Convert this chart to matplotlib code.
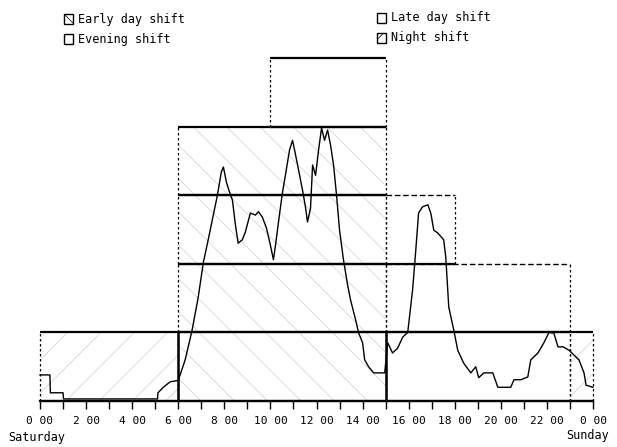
import matplotlib
matplotlib.use('Agg')
import matplotlib.pyplot as plt
from matplotlib.patches import Rectangle

plt.rcParams['hatch.linewidth'] = 0.5
MONO = 'DejaVu Sans Mono'

# ---- data -------------------------------------------------------------
hours = [0, 0.43, 0.45, 1.0, 1.02, 5.1, 5.12, 5.35, 5.65, 6.0, 6.3, 6.6, 6.87,
         7.09, 7.3, 7.52, 7.7, 7.87, 7.96, 8.09, 8.22, 8.35, 8.48, 8.6, 8.78,
         8.91, 9.13, 9.35, 9.48, 9.65, 9.83, 10.0, 10.13, 10.22, 10.39, 10.52,
         10.65, 10.83, 10.96, 11.09, 11.22, 11.39, 11.52, 11.61, 11.74, 11.83,
         11.96, 12.09, 12.22, 12.35, 12.48, 12.61, 12.74, 12.87, 13.0, 13.17,
         13.35, 13.48, 13.7, 13.83, 14.0, 14.09, 14.26, 14.48, 14.96, 15.09,
         15.3, 15.52, 15.74, 15.96, 16.17, 16.3, 16.43, 16.6, 16.83, 16.96,
         17.09, 17.26, 17.52, 17.61, 17.74, 17.96, 18.13, 18.39, 18.7, 18.91,
         19.04, 19.26, 19.65, 19.87, 20.43, 20.57, 20.87, 21.17, 21.3, 21.61,
         21.87, 22.09, 22.3, 22.48, 22.7, 22.96, 23.39, 23.61, 23.7, 24.0]
demand = [0.38, 0.38, 0.12, 0.12, 0.03, 0.03, 0.12, 0.2, 0.28, 0.3, 0.6, 1.03,
          1.52, 2.02, 2.35, 2.71, 3.0, 3.34, 3.41, 3.19, 3.05, 2.93, 2.57, 2.3,
          2.35, 2.46, 2.74, 2.71, 2.76, 2.68, 2.52, 2.27, 2.06, 2.27, 2.71, 3.03,
          3.29, 3.66, 3.8, 3.59, 3.37, 3.08, 2.83, 2.61, 2.81, 3.44, 3.29, 3.66,
          3.98, 3.8, 3.95, 3.73, 3.44, 3.0, 2.49, 2.06, 1.69, 1.47, 1.18, 0.99,
          0.85, 0.6, 0.5, 0.41, 0.41, 0.85, 0.7, 0.77, 0.93, 1.0, 1.62, 2.16,
          2.74, 2.83, 2.86, 2.74, 2.49, 2.45, 2.35, 2.1, 1.37, 1.03, 0.74, 0.55,
          0.41, 0.5, 0.34, 0.41, 0.41, 0.2, 0.2, 0.31, 0.31, 0.35, 0.6, 0.7,
          0.85, 1.0, 0.99, 0.79, 0.79, 0.74, 0.6, 0.41, 0.23, 0.2]

shift_kind = ['Early', 'Early', 'Early', 'Early', 'Late',
              'Evening', 'Evening', 'Evening', 'Night', 'Night']
shift_start = [6, 6, 6, 6, 10, 15, 15, 15, 0, 23]
shift_end = [15, 15, 15, 15, 15, 23, 23, 18, 6, 24]
shift_level = [0, 1, 2, 3, 4, 0, 1, 2, 0, 0]

legend_labels = ['Early day shift', 'Evening shift', 'Late day shift', 'Night shift']
legend_kinds = ['Early', 'Evening', 'Late', 'Night']

tick_hours = list(range(0, 25))
tick_labels = ['0 00', '', '2 00', '', '4 00', '', '6 00', '', '8 00', '',
               '10 00', '', '12 00', '', '14 00', '', '16 00', '', '18 00', '',
               '20 00', '', '22 00', '', '0 00']

# ---- styles -----------------------------------------------------------
hatch_of = {'Early': '\\', 'Late': '', 'Evening': '', 'Night': '/'}

W, H = 617, 447
fig = plt.figure(figsize=(W / 100, H / 100), dpi=100)
ax = fig.add_axes([40 / W, 46 / H, 553 / W, 343 / H])
ax.set_xlim(0, 24)
ax.set_ylim(0, 5)

for k, s, e, lv in zip(shift_kind, shift_start, shift_end, shift_level):
    h = hatch_of[k]
    if h:
        ax.add_patch(Rectangle((s, lv), e - s, 1, fill=False, hatch=h,
                               edgecolor='#cfcfcf', lw=0, zorder=1))
    faint = (k == 'Evening' and lv >= 1)
    top_ls = (0, (4, 2)) if faint else '-'
    ax.hlines([lv + 1], s, e, colors='black', lw=1.0 if faint else 1.6,
              linestyles=[top_ls], zorder=3, clip_on=False)
    ax.hlines([lv], s, e, colors='black', lw=1.6, zorder=3, clip_on=False)
    side_ls = '-' if (lv == 0 and k in ('Early', 'Evening')) else (0, (2, 2))
    side_lw = 1.8 if side_ls == '-' else 0.9
    ax.vlines([s], lv, lv + 1, colors='black', lw=side_lw,
              linestyles=[side_ls], zorder=3, clip_on=False)
    ax.vlines([e], lv, lv + 1, colors='black', lw=0.9,
              linestyles=[(0, (2, 2))], zorder=3, clip_on=False)

ax.plot(hours, demand, color='black', lw=1.0, zorder=4, clip_on=False)

for side in ('top', 'right', 'left'):
    ax.spines[side].set_visible(False)
ax.spines['bottom'].set_linewidth(1.6)
ax.set_yticks([])
ax.set_xticks(tick_hours)
ax.set_xticklabels(tick_labels, fontfamily=MONO, fontsize=8)
ax.tick_params(axis='x', length=6, width=1.0, pad=5, direction='out')

fig.text(8 / W, 1 - 438 / H, 'Saturday', fontfamily=MONO, fontsize=8.5,
         ha='left', va='center')
fig.text(609 / W, 1 - 436 / H, 'Sunday', fontfamily=MONO, fontsize=8.5,
         ha='right', va='center')

# ---- legend -----------------------------------------------------------
col_x = [64, 377]
row_y = [[19, 39], [18, 38]]
for i, (lab, k) in enumerate(zip(legend_labels, legend_kinds)):
    c, r = divmod(i, 2)
    x0 = col_x[c]
    yc = row_y[c][r]
    fig.add_artist(Rectangle((x0 / W, 1 - (yc + 5) / H), 9 / W, 10 / H,
                             transform=fig.transFigure, fill=False,
                             edgecolor='black', lw=1.0,
                             hatch=hatch_of[k] * 2 if hatch_of[k] else ''))
    fig.text((x0 + 14) / W, 1 - yc / H, lab, fontfamily=MONO, fontsize=8.5,
             ha='left', va='center')

fig.savefig('out.png', dpi=100)
